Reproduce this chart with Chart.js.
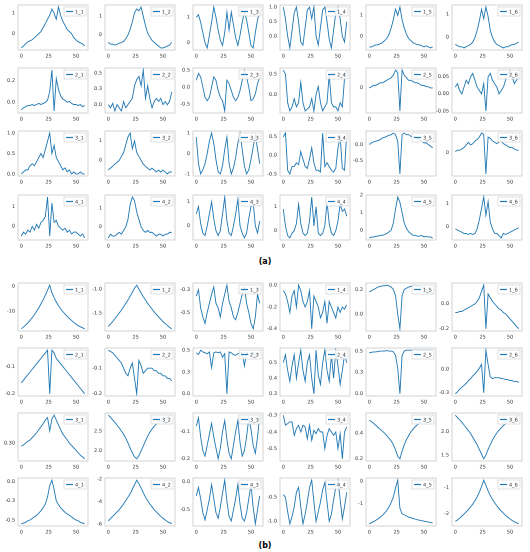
<!DOCTYPE html><html><head><meta charset="utf-8">
<script src="https://cdn.jsdelivr.net/npm/chart.js@4.4.0/dist/chart.umd.min.js"></script>
<style>body{margin:0;width:530px;height:552px;background:#fff;position:relative;overflow:hidden;font-family:"DejaVu Sans"}
canvas{position:absolute}.lab{position:absolute;font:bold 8px "DejaVu Sans";width:30px;text-align:center}</style></head><body>
<div class="lab" style="left:250px;top:257px">(a)</div><div class="lab" style="left:250px;top:541px">(b)</div>
<script>
const XS=[0,2,4,6,8,10,12,14,16,18,20,22,24,26,28,30,32,34,36,38,40,42,44,46,48,50,52,54,56,58];
const XTICKS=[0,25,50];
const a11=[-0.7,-0.6,-0.5,-0.4,-0.35,-0.3,-0.2,-0.1,0.0,0.1,0.3,0.5,0.7,0.9,1.2,1.0,0.7,1.3,0.9,0.6,0.4,0.2,0.1,0.0,-0.2,-0.3,-0.4,-0.45,-0.5,-0.6];
const a12=[-0.4,-0.5,-0.5,-0.55,-0.5,-0.45,-0.4,-0.35,-0.2,0,0.3,0.7,1.2,1.4,1.3,1.5,1.0,0.5,0.1,-0.1,-0.3,-0.4,-0.5,-0.6,-0.7,-0.7,-0.65,-0.6,-0.55,-0.4];
const a13=[1.0,1.1,0.8,0.4,0.0,-0.2,0.3,0.8,1.4,1.0,0.5,0.1,-0.1,0.4,1.2,0.5,1.2,0.7,0.2,-0.1,0.3,0.8,1.2,0.9,0.4,-0.1,-0.2,0.4,0.9,1.2];
const a14=[1.0,0.6,0.0,-0.4,0.2,0.8,1.0,0.5,-0.2,-0.3,0.3,0.9,1.0,0.6,1.0,0.0,-0.3,0.3,0.9,1.0,0.5,-0.1,-0.4,0.2,0.8,1.0,0.6,0.0,-0.2,0.5];
const a15=[-0.5,-0.5,-0.45,-0.4,-0.4,-0.35,-0.3,-0.2,-0.1,0.1,0.4,0.8,1.3,1.0,1.4,0.8,0.4,0.1,-0.1,-0.2,-0.3,-0.35,-0.4,-0.4,-0.45,-0.5,-0.45,-0.5,-0.55,-0.5];
const a16=[-0.3,-0.35,-0.4,-0.4,-0.45,-0.4,-0.35,-0.3,-0.2,0.0,0.3,0.7,1.2,0.8,1.3,0.9,0.3,0.0,-0.2,-0.3,-0.35,-0.4,-0.45,-0.4,-0.4,-0.35,-0.3,-0.3,-0.25,-0.2];
const a21=[-0.07,-0.05,-0.04,-0.03,-0.03,-0.02,-0.03,-0.02,-0.01,-0.02,-0.01,0.0,0.02,0.1,0.3,-0.08,0.22,0.12,0.06,0.03,0.02,0.0,0.01,-0.01,-0.02,-0.02,-0.03,-0.02,-0.04,-0.03];
const a22=[0.0,-0.05,0.02,-0.1,0.0,-0.05,-0.1,0.05,-0.05,0.0,0.05,0.1,0.3,0.4,0.45,0.3,0.55,0.1,0.3,0.1,-0.05,0.05,0.1,0.05,0.1,0.0,0.05,0.0,0.05,0.2];
const a23=[0.2,0.4,0.3,0.0,-0.3,-0.4,-0.3,0.0,0.3,0.2,-0.1,-0.3,-0.4,-0.7,0.2,0.1,-0.1,-0.3,-0.4,-0.3,-0.1,0.2,0.5,0.3,0.0,-0.4,-0.35,-0.2,0.1,0.3];
const a24=[0.6,0.5,-0.2,-0.4,-0.3,-0.1,-0.3,-0.2,0.3,-0.2,-0.4,-0.35,-0.3,-0.1,-0.4,0.0,0.2,-0.2,-0.4,-0.3,-0.2,0.5,-0.2,-0.3,-0.3,-0.4,-0.2,-0.3,0.4,0.6];
const a25=[0.0,0.05,0.1,0.1,0.15,0.2,0.2,0.25,0.3,0.35,0.4,0.5,0.7,0.6,-0.9,0.7,0.5,0.4,0.3,0.3,0.25,0.2,0.2,0.15,0.1,0.1,0.05,0.05,0.0,0.0];
const a26=[0.02,0.03,0.01,0.0,0.02,0.04,0.03,0.05,0.06,0.04,0.02,0.01,0.0,0.03,-0.05,0.05,0.06,0.04,0.03,0.02,0.0,0.01,0.02,0.04,0.06,0.07,0.05,0.03,0.04,0.05];
const a31=[0.0,0.05,0.1,0.1,0.2,0.25,0.2,0.3,0.4,0.5,0.4,0.6,0.8,1.0,0.5,0.7,0.4,0.3,0.2,0.1,0.15,0.05,0.1,0.0,0.05,0.0,0.0,0.05,0.0,0.0];
const a32=[-0.5,-0.4,-0.3,-0.2,-0.1,0.0,0.2,0.4,0.8,1.2,1.4,0.6,1.0,0.4,0.2,0.0,-0.2,-0.3,-0.4,-0.5,-0.4,-0.5,-0.6,-0.5,-0.6,-0.5,-0.6,-0.7,-0.6,-0.6];
const a33=[0.8,-0.5,-1.0,-0.8,-0.5,0.0,0.6,1.0,0.5,-0.3,-0.9,-1.0,-0.6,0.2,0.8,-0.5,-1.0,-0.7,-0.2,0.5,1.0,0.2,-0.6,-1.0,-0.8,-0.3,0.3,0.9,0.2,-0.5];
const a34=[0.5,0.6,-0.4,-0.5,-0.3,-0.3,-0.2,-0.25,0.1,-0.1,-0.3,-0.35,-0.1,0.2,-0.2,-0.4,-0.4,-0.45,0.6,-0.3,-0.2,-0.3,-0.4,-0.45,-0.35,0.2,0.5,-0.35,-0.4,0.6];
const a35=[0.0,0.05,0.08,0.1,0.12,0.15,0.2,0.22,0.25,0.28,0.3,0.35,0.3,0.1,-0.9,0.3,0.35,0.3,0.3,0.25,0.25,0.2,0.2,0.15,0.1,0.05,0.05,0.0,-0.05,-0.1];
const a36=[0.05,0.1,0.1,0.15,0.2,0.3,0.4,0.3,0.35,0.45,0.5,0.6,0.75,0.7,-0.8,0.6,0.55,0.45,0.4,0.35,0.4,0.45,0.35,0.3,0.25,0.2,0.2,0.15,0.1,0.1];
const a41=[-0.5,-0.3,-0.4,-0.2,-0.3,0.0,-0.2,0.1,-0.1,0.2,0.3,0.5,1.5,-0.5,1.2,0.2,0.3,0.0,-0.1,-0.2,-0.1,-0.3,-0.2,-0.4,-0.3,-0.3,-0.4,-0.5,-0.4,-0.6];
const a42=[-0.6,-0.4,-0.5,-0.5,-0.4,-0.3,-0.4,-0.2,0.0,0.4,1.2,1.6,1.4,0.8,0.4,0.0,-0.2,-0.3,-0.2,-0.3,-0.3,-0.4,-0.5,-0.4,-0.4,-0.5,-0.4,-0.4,-0.3,-0.3];
const a43=[0.5,0.8,0.1,-0.3,-0.4,0.0,0.5,1.0,0.3,-0.2,-0.4,-0.2,0.5,1.2,0.2,-0.3,-0.4,0.0,0.5,1.1,0.0,-0.3,-0.5,-0.3,0.3,0.8,1.0,0.0,-0.3,0.2];
const a44=[0.9,0.2,-0.2,-0.3,-0.1,0.0,0.3,1.1,0.3,-0.1,-0.2,-0.1,0.4,1.4,0.2,1.0,-0.1,-0.2,-0.1,0.2,1.2,0.3,-0.1,-0.2,0.0,0.4,1.1,0.8,0.9,0.6];
const a45=[-0.45,-0.4,-0.4,-0.35,-0.35,-0.3,-0.3,-0.25,-0.2,-0.1,0.0,0.4,1.2,1.9,1.6,1.0,0.4,0.1,-0.1,-0.2,-0.3,-0.3,-0.35,-0.35,-0.3,-0.4,-0.35,-0.4,-0.4,-0.45];
const a46=[-0.1,-0.15,-0.2,-0.25,-0.3,-0.3,-0.35,-0.3,-0.35,-0.3,-0.1,0.3,0.8,1.3,0.5,1.1,0.2,-0.1,-0.3,-0.3,-0.4,-0.5,-0.3,-0.35,-0.3,-0.25,-0.2,-0.15,-0.1,-0.05];
const b11=[-17,-16.3,-15.5,-14.6,-13.6,-12.5,-11.3,-10,-8.6,-7,-5.3,-3.5,-1.5,0.5,-2.5,-4.5,-6.2,-7.7,-9,-10.1,-11.1,-12,-12.9,-13.7,-14.4,-15.1,-15.7,-16.2,-16.6,-17];
const b12=[-1.78,-1.73,-1.68,-1.62,-1.56,-1.5,-1.44,-1.37,-1.3,-1.23,-1.15,-1.07,-0.98,-0.92,-1.0,-1.08,-1.16,-1.23,-1.3,-1.36,-1.42,-1.48,-1.53,-1.58,-1.63,-1.68,-1.72,-1.76,-1.8,-1.83];
const b13=[-0.32,-0.25,-0.45,-0.55,-0.62,-0.5,-0.4,-0.3,-0.22,-0.4,-0.45,-0.55,-0.4,-0.3,-0.2,-0.38,-0.45,-0.55,-0.58,-0.5,-0.4,-0.3,-0.22,-0.4,-0.5,-0.62,-0.68,-0.55,-0.3,-0.4];
const b14=[-0.05,-0.08,-0.15,-0.25,-0.1,-0.05,-0.2,0.0,-0.05,-0.15,-0.2,-0.15,-0.05,-0.4,-0.1,-0.15,-0.2,-0.3,-0.25,-0.15,-0.35,-0.15,-0.2,-0.25,-0.3,-0.2,-0.25,-0.2,-0.22,-0.18];
const b15=[0.18,0.19,0.2,0.21,0.22,0.225,0.23,0.23,0.235,0.23,0.22,0.2,0.15,0.0,-0.12,0.15,0.2,0.21,0.22,0.225,0.23,0.235,0.23,0.225,0.22,0.21,0.2,0.19,0.18,0.17];
const b16=[-0.07,-0.07,-0.06,-0.06,-0.05,-0.04,-0.03,-0.02,-0.01,0.0,0.02,0.05,0.1,0.15,-0.2,0.08,0.05,0.02,0.0,-0.02,-0.04,-0.05,-0.07,-0.08,-0.1,-0.12,-0.14,-0.16,-0.18,-0.2];
const b21=[-0.16,-0.15,-0.14,-0.13,-0.12,-0.11,-0.1,-0.09,-0.08,-0.07,-0.06,-0.05,-0.04,-0.2,-0.04,-0.05,-0.07,-0.08,-0.09,-0.1,-0.11,-0.12,-0.13,-0.14,-0.15,-0.16,-0.17,-0.18,-0.19,-0.2];
const b22=[-0.03,-0.035,-0.04,-0.05,-0.06,-0.07,-0.08,-0.1,-0.12,-0.13,-0.1,-0.08,-0.14,-0.2,-0.07,-0.09,-0.12,-0.11,-0.1,-0.1,-0.1,-0.11,-0.11,-0.12,-0.12,-0.13,-0.13,-0.14,-0.14,-0.15];
const b23=[0.47,0.45,0.5,0.48,0.47,0.46,0.48,0.3,0.47,0.48,0.47,0.48,0.42,0.46,0.0,0.48,0.47,0.45,0.44,0.46,0.47,0.48,0.32,0.48,0.44,0.46,0.48,0.42,0.46,0.47];
const b24=[0.5,0.55,0.45,0.38,0.48,0.55,0.4,0.5,0.58,0.45,0.38,0.5,0.55,0.4,0.3,0.58,0.42,0.36,0.5,0.58,0.45,0.38,0.55,0.4,0.58,0.48,0.36,0.45,0.55,0.5];
const b25=[0.48,0.485,0.49,0.49,0.495,0.5,0.5,0.5,0.505,0.5,0.5,0.49,0.45,0.3,0.0,0.45,0.5,0.51,0.51,0.51,0.51,0.51,0.51,0.51,0.51,0.51,0.51,0.51,0.51,0.51];
const b26=[-0.26,-0.24,-0.21,-0.19,-0.17,-0.15,-0.12,-0.1,-0.07,-0.05,-0.02,0.01,0.05,-0.25,0.2,0.05,-0.08,-0.1,-0.09,-0.09,-0.09,-0.1,-0.1,-0.11,-0.11,-0.12,-0.12,-0.13,-0.13,-0.14];
const b31=[0.295,0.297,0.3,0.303,0.305,0.309,0.313,0.317,0.322,0.327,0.332,0.338,0.342,0.32,0.34,0.346,0.338,0.33,0.322,0.315,0.31,0.305,0.3,0.296,0.292,0.288,0.284,0.28,0.277,0.274];
const b32=[2.9,2.85,2.78,2.72,2.65,2.58,2.5,2.42,2.32,2.2,2.07,1.95,1.85,1.8,1.88,2.0,2.12,2.25,2.37,2.47,2.55,2.62,2.68,2.72,2.76,2.8,2.83,2.85,2.88,2.9];
const b33=[-0.08,-0.05,-0.12,-0.17,-0.19,-0.15,-0.11,-0.07,-0.12,-0.16,-0.2,-0.16,-0.1,-0.06,-0.13,-0.18,-0.2,-0.15,-0.1,-0.06,-0.14,-0.19,-0.17,-0.12,-0.05,-0.09,-0.15,-0.18,-0.12,-0.04];
const b34=[-0.3,-0.36,-0.35,-0.34,-0.34,-0.42,-0.38,-0.36,-0.4,-0.36,-0.37,-0.44,-0.36,-0.45,-0.39,-0.41,-0.38,-0.4,-0.4,-0.5,-0.42,-0.38,-0.4,-0.42,-0.4,-0.5,-0.41,-0.56,-0.4,-0.37];
const b35=[0.5,0.49,0.475,0.46,0.445,0.43,0.415,0.4,0.38,0.36,0.34,0.31,0.27,0.22,0.2,0.26,0.31,0.35,0.38,0.41,0.43,0.45,0.465,0.48,0.49,0.5,0.51,0.52,0.53,0.54];
const b36=[2.35,2.3,2.25,2.2,2.14,2.08,2.02,1.96,1.88,1.8,1.72,1.62,1.52,1.42,1.5,1.62,1.72,1.82,1.9,1.97,2.03,2.08,2.13,2.17,2.21,2.24,2.27,2.3,2.32,2.34];
const b41=[-0.55,-0.54,-0.53,-0.51,-0.5,-0.48,-0.46,-0.44,-0.41,-0.38,-0.34,-0.29,-0.2,-0.05,0.02,-0.1,-0.25,-0.3,-0.34,-0.37,-0.4,-0.42,-0.44,-0.46,-0.48,-0.5,-0.51,-0.53,-0.54,-0.55];
const b42=[-5.7,-5.5,-5.3,-5.1,-4.9,-4.7,-4.45,-4.2,-3.9,-3.6,-3.3,-2.9,-2.5,-2.1,-2.4,-2.8,-3.2,-3.6,-3.9,-4.2,-4.45,-4.7,-4.9,-5.1,-5.3,-5.45,-5.6,-5.75,-5.85,-5.95];
const b43=[-0.25,-0.1,-0.3,-0.55,-0.68,-0.5,-0.3,-0.05,-0.3,-0.55,-0.65,-0.45,-0.2,0.03,-0.35,-0.62,-0.7,-0.5,-0.3,-0.05,-0.4,-0.65,-0.7,-0.55,-0.3,-0.05,-0.45,-0.75,-0.5,-0.25];
const b44=[-0.45,-0.5,-0.8,-1.05,-0.9,-0.7,-0.4,-0.3,-0.7,-1.05,-0.85,-0.6,-0.3,-0.15,-0.6,-1.0,-0.8,-0.6,-0.35,-0.2,-0.6,-1.0,-0.85,-0.55,-0.3,-0.15,-0.55,-0.95,-0.7,-0.4];
const b45=[-1.9,-1.85,-1.8,-1.74,-1.68,-1.6,-1.52,-1.42,-1.3,-1.15,-0.95,-0.7,-0.3,0.05,-1.2,-1.45,-1.5,-1.55,-1.6,-1.63,-1.66,-1.69,-1.72,-1.74,-1.76,-1.78,-1.8,-1.82,-1.84,-1.86];
const b46=[-2.3,-2.25,-2.18,-2.1,-2.02,-1.93,-1.84,-1.74,-1.63,-1.5,-1.35,-1.17,-0.95,-0.7,-0.9,-1.12,-1.3,-1.45,-1.58,-1.7,-1.8,-1.9,-1.99,-2.07,-2.14,-2.21,-2.27,-2.32,-2.36,-2.4];
const groupA=[[a11,a12,a13,a14,a15,a16],[a21,a22,a23,a24,a25,a26],[a31,a32,a33,a34,a35,a36],[a41,a42,a43,a44,a45,a46]];
const groupB=[[b11,b12,b13,b14,b15,b16],[b21,b22,b23,b24,b25,b26],[b31,b32,b33,b34,b35,b36],[b41,b42,b43,b44,b45,b46]];

const COLX=[18,105,193,280,366,452], PW=70;
const ROWA=[3,66,129,193], ROWB=[281,346,411,476];
const YW=18, XH=11;
function niceStep(range){const raw=range/2.2,p=Math.pow(10,Math.floor(Math.log10(raw))),f=raw/p;
 const m=f<1.5?1:f<2.25?2:f<3.5?2.5:f<7.5?5:10;return m*p;}
const framePlugin={id:'fr',beforeDatasetsDraw(c){const a=c.chartArea,ctx=c.ctx;ctx.save();ctx.strokeStyle='#c8c8c8';ctx.lineWidth=0.8;
 ctx.strokeRect(a.left,a.top,a.right-a.left,a.bottom-a.top);ctx.restore();}};
const legendPlugin={id:'lg',afterDatasetsDraw(c){const a=c.chartArea,ctx=c.ctx,t=c.data.datasets[0].label;
 const w=22,h=9,x=a.right-w-2,y=a.top+2;ctx.save();ctx.fillStyle='rgba(255,255,255,0.85)';ctx.strokeStyle='#ccc';ctx.lineWidth=0.6;
 ctx.fillRect(x,y,w,h);ctx.strokeRect(x,y,w,h);ctx.strokeStyle='#1f77b4';ctx.lineWidth=1.2;ctx.beginPath();ctx.moveTo(x+2,y+4.5);ctx.lineTo(x+9,y+4.5);ctx.stroke();
 ctx.fillStyle='#333';ctx.font='5px "DejaVu Sans"';ctx.textBaseline='middle';ctx.fillText(t,x+11,y+5);ctx.restore();}};
function panel(data,label,left,top,ph){
 const cv=document.createElement('canvas');const W=YW+PW+2,H=ph+2+XH;
 cv.style.left=(left-YW)+'px';cv.style.top=(top-2)+'px';cv.style.width=W+'px';cv.style.height=H+'px';cv.width=W;cv.height=H;
 document.body.appendChild(cv);
 const mn=Math.min(...data),mx=Math.max(...data),pad=(mx-mn)*0.05;
 new Chart(cv,{type:'line',data:{datasets:[{label:label,data:XS.map((x,i)=>({x:x,y:data[i]})),borderColor:'#1f77b4',borderWidth:0.9,pointRadius:0,tension:0}]},
 options:{responsive:false,animation:false,devicePixelRatio:2,layout:{padding:{top:2,right:2,left:0,bottom:0}},
 plugins:{legend:{display:false},tooltip:{enabled:false}},
 scales:{x:{type:'linear',min:-3,max:61,afterBuildTicks(s){s.ticks=XTICKS.map(v=>({value:v}));},afterFit(s){s.height=XH;},
  grid:{display:false,drawTicks:true,tickLength:2,tickColor:'#333'},border:{display:false},ticks:{font:{size:5,family:'DejaVu Sans'},color:'#333',padding:1,maxRotation:0}},
 y:{min:mn-pad,max:mx+pad,afterBuildTicks(s){const st=niceStep(s.max-s.min),t=[];
   for(let v=Math.ceil(s.min/st)*st;v<=s.max+1e-9;v+=st)t.push({value:Math.round(v/st)*st});s.ticks=t;},
  afterFit(s){s.width=YW;},grid:{display:false,drawTicks:true,tickLength:2,tickColor:'#333'},border:{display:false},
  ticks:{font:{size:5,family:'DejaVu Sans'},color:'#333',padding:1,callback(v){const st=niceStep(this.max-this.min);const d=st<0.01?3:st<0.1?2:st<1?1:0;return Math.abs(v)<1e-9?(d?(0).toFixed(d):'0'):v.toFixed(d);}}}}},plugins:[framePlugin,legendPlugin]});
}
groupA.forEach((row,r)=>row.forEach((d,c)=>panel(d,(r+1)+'_'+(c+1),COLX[c],ROWA[r],47)));
groupB.forEach((row,r)=>row.forEach((d,c)=>panel(d,(r+1)+'_'+(c+1),COLX[c],ROWB[r],50)));
</script></body></html>
